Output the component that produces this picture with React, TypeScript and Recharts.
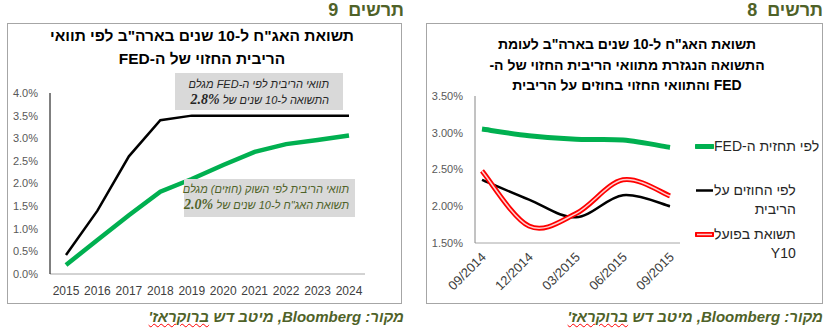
import { LineChart, Line, XAxis, YAxis } from 'recharts'

// chart 9: 10y yield implied by rate paths
const years = ['2015', '2016', '2017', '2018', '2019', '2020', '2021', '2022', '2023', '2024']
const fedPath = [0.42, 1.4, 2.6, 3.4, 3.5, 3.5, 3.5, 3.5, 3.5, 3.5]
const marketPath = [0.2, 0.75, 1.3, 1.82, 2.1, 2.41, 2.7, 2.87, 2.96, 3.06]
const leftTicks = [0, 0.5, 1, 1.5, 2, 2.5, 3, 3.5, 4]

// chart 8: actual 10y yield vs implied
const months = ['09/2014', '12/2014', '03/2015', '06/2015', '09/2015']
const fedImplied = [3.05, 2.96, 2.91, 2.9, 2.8]
const futuresImplied = [2.36, 2.09, 1.85, 2.15, 2.0]
const actual10y = [2.48, 1.73, 1.9, 2.36, 2.14]
const rightTicks = [1.5, 2, 2.5, 3, 3.5]

const leftTitle = ['תשואת האג"ח ל-10 שנים בארה"ב לפי תוואי', 'הריבית החזוי של ה-FED']
const rightTitle = [
  'תשואת האג"ח ל-10 שנים בארה"ב לעומת',
  'התשואה הנגזרת מתוואי הריבית החזוי של ה-',
  'FED והתוואי החזוי בחוזים על הריבית',
]
const legendLabels = [['לפי תחזית ה-FED'], ['לפי החוזים על', 'הריבית'], ['תשואת בפועל', 'Y10']]
const legendKinds = ['green', 'black', 'red']

const font = '"Liberation Sans", Arial, sans-serif'
const olive = '#4f6228'
const green = '#00b050'

// excel-like smoothing (catmull-rom through the points)
function smooth(context: any) {
  let pts: number[][] = []
  return {
    areaStart() {},
    areaEnd() {},
    lineStart() { pts = [] },
    point(x: number, y: number) { pts.push([+x, +y]) },
    lineEnd() {
      if (!pts.length) return
      context.moveTo(pts[0][0], pts[0][1])
      for (let i = 0; i < pts.length - 1; i++) {
        const p0 = pts[Math.max(0, i - 1)], p1 = pts[i], p2 = pts[i + 1], p3 = pts[Math.min(pts.length - 1, i + 2)]
        context.bezierCurveTo(
          p1[0] + (p2[0] - p0[0]) / 6, p1[1] + (p2[1] - p0[1]) / 6,
          p2[0] - (p3[0] - p1[0]) / 6, p2[1] - (p3[1] - p1[1]) / 6,
          p2[0], p2[1],
        )
      }
    },
  }
}

function SlantTick({ x, y, payload }: any) {
  return (
    <g transform={`translate(${x + 2},${y})`}>
      <text x={0} y={0} dy={4} textAnchor="end" transform="rotate(-45)" fill="#404040" fontSize={13} fontFamily={font}>
        {payload.value}
      </text>
    </g>
  )
}

function Sample({ kind }: { kind: string }) {
  return (
    <svg width={19} height={19} style={{ flex: 'none' }}>
      {kind === 'green' && <line x1={1} y1={9.5} x2={18} y2={9.5} stroke={green} strokeWidth={5} strokeLinecap="round" />}
      {kind === 'black' && <line x1={1} y1={9.5} x2={18} y2={9.5} stroke="#000" strokeWidth={2.5} />}
      {kind === 'red' && (
        <>
          <line x1={1} y1={9.5} x2={18} y2={9.5} stroke="#ff0000" strokeWidth={5} strokeLinecap="round" />
          <line x1={2} y1={9.5} x2={17} y2={9.5} stroke="#ffd0d0" strokeWidth={1.5} />
        </>
      )}
    </svg>
  )
}

export default function App() {
  const leftData = years.map((year, i) => ({ year, fed: fedPath[i], market: marketPath[i] }))
  const rightData = months.map((month, i) => ({ month, fed: fedImplied[i], futures: futuresImplied[i], actual: actual10y[i] }))
  const tickStyle = { fontSize: 11, fill: '#595959', fontFamily: font }
  const boxText = { fontSize: 11, lineHeight: '14px', whiteSpace: 'nowrap' as const }
  const bigNum = { fontFamily: '"Liberation Serif", serif', fontSize: 14 }

  return (
    <div style={{ position: 'absolute', left: 0, top: 0, width: 832, height: 334, background: '#fff', fontFamily: font, overflow: 'hidden' }}>
      {/* headers */}
      <div style={{ position: 'absolute', right: 428, top: 0, direction: 'rtl', fontSize: 18, fontWeight: 'bold', color: olive, whiteSpace: 'pre' }}>תרשים  9</div>
      <div style={{ position: 'absolute', right: 9, top: 0, direction: 'rtl', fontSize: 18, fontWeight: 'bold', color: olive, whiteSpace: 'pre' }}>תרשים  8</div>

      {/* panel frames */}
      <div style={{ position: 'absolute', left: 7, top: 23, width: 395, height: 281, border: '1px solid #a6a6a6', boxSizing: 'border-box' }} />
      <div style={{ position: 'absolute', left: 426, top: 23, width: 397, height: 281, border: '1px solid #a6a6a6', boxSizing: 'border-box' }} />

      {/* left chart */}
      <div style={{ position: 'absolute', left: 20, top: 24, width: 364, direction: 'rtl', textAlign: 'center', fontSize: 15.5, fontWeight: 'bold', lineHeight: '23px' }}>
        {leftTitle.map(t => <div key={t}>{t}</div>)}
      </div>
      <div style={{ position: 'absolute', left: 0, top: 80 }}>
        <LineChart width={400} height={220} data={leftData} margin={{ top: 13, right: 35, bottom: 6, left: 0 }}>
          <XAxis dataKey="year" height={20} padding={{ left: 16, right: 16 }} tickLine={false} tickSize={0} tickMargin={12}
            axisLine={{ stroke: '#a6a6a6' }} tick={{ fontSize: 12, fill: '#404040', fontFamily: font }} interval={0} />
          <YAxis width={50} domain={[0, 4]} ticks={leftTicks} tickLine={false} tickSize={0} tickMargin={12}
            axisLine={{ stroke: '#000' }} tick={tickStyle} tickFormatter={(v) => Number(v).toFixed(1) + '%'} />
          <Line dataKey="fed" stroke="#000" strokeWidth={2.5} dot={false} isAnimationActive={false} />
          <Line dataKey="market" stroke={green} strokeWidth={4.5} dot={false} isAnimationActive={false} />
        </LineChart>
      </div>
      <div style={{ position: 'absolute', left: 175, top: 73, width: 168, height: 37, background: '#d9d9d9', direction: 'rtl', boxSizing: 'border-box', paddingRight: 14, paddingTop: 4, color: '#262626', fontStyle: 'italic' }}>
        <div style={boxText}>תוואי הריבית לפי ה-FED מגלם</div>
        <div style={{ ...boxText, lineHeight: '17px' }}>
          התשואה ל-10 שנים של <b style={bigNum}>2.8%</b>
        </div>
      </div>
      <div style={{ position: 'absolute', left: 184, top: 179, width: 171, height: 38, background: '#d9d9d9', direction: 'rtl', boxSizing: 'border-box', paddingRight: 6, paddingTop: 3, color: olive, fontStyle: 'italic' }}>
        <div style={boxText}>תוואי הריבית לפי השוק (חוזים) מגלם</div>
        <div style={{ ...boxText, lineHeight: '18px' }}>
          תשואת האג"ח ל-10 שנים של <b style={bigNum}>2.0%</b>
        </div>
      </div>

      {/* right chart */}
      <div style={{ position: 'absolute', left: 447, top: 34, width: 360, direction: 'rtl', textAlign: 'center', fontSize: 14, fontWeight: 'bold', lineHeight: '20.5px' }}>
        {rightTitle.map(t => <div key={t}>{t}</div>)}
      </div>
      <div style={{ position: 'absolute', left: 426, top: 90 }}>
        <LineChart width={258} height={210} data={rightData} margin={{ top: 6, right: 4, bottom: 2, left: 0 }}>
          <XAxis dataKey="month" height={55} padding={{ left: 7, right: 10 }} tickLine={false} tickSize={0} tickMargin={12}
            axisLine={{ stroke: '#a6a6a6' }} tick={<SlantTick />} interval={0} />
          <YAxis width={49} domain={[1.5, 3.5]} ticks={rightTicks} tickLine={false} tickSize={0} tickMargin={12}
            axisLine={{ stroke: '#868686' }} tick={tickStyle} tickFormatter={(v) => Number(v).toFixed(2) + '%'} />
          <Line dataKey="fed" type={smooth as any} stroke={green} strokeWidth={5} dot={false} isAnimationActive={false} />
          <Line dataKey="futures" type={smooth as any} stroke="#000" strokeWidth={2.5} dot={false} isAnimationActive={false} />
          <Line dataKey="actual" type={smooth as any} stroke="#ff0000" strokeWidth={5} dot={false} isAnimationActive={false} />
          <Line dataKey="actual" type={smooth as any} stroke="#ffd0d0" strokeWidth={1.5} dot={false} isAnimationActive={false} legendType="none" />
        </LineChart>
      </div>
      {legendLabels.map((lines, i) => (
        <div key={i} style={{ position: 'absolute', left: 695, top: [137, 181, 225][i], display: 'flex', alignItems: 'flex-start' }}>
          <Sample kind={legendKinds[i]} />
          <div style={{ direction: 'rtl', textAlign: 'right', fontSize: 14, lineHeight: '19px', color: '#262626', whiteSpace: 'nowrap' }}>
            {lines.map(l => <div key={l}>{l}</div>)}
          </div>
        </div>
      ))}

      {/* sources */}
      {[428, 9].map(r => (
        <div key={r} style={{ position: 'absolute', right: r, top: 308, direction: 'rtl', fontSize: 15, fontWeight: 'bold', fontStyle: 'italic', color: olive, whiteSpace: 'nowrap' }}>
          מקור: Bloomberg, מיטב דש <span style={{ textDecoration: 'underline wavy #ff0000', textDecorationThickness: 1 }}>ברוקראז'</span>
        </div>
      ))}
    </div>
  )
}
